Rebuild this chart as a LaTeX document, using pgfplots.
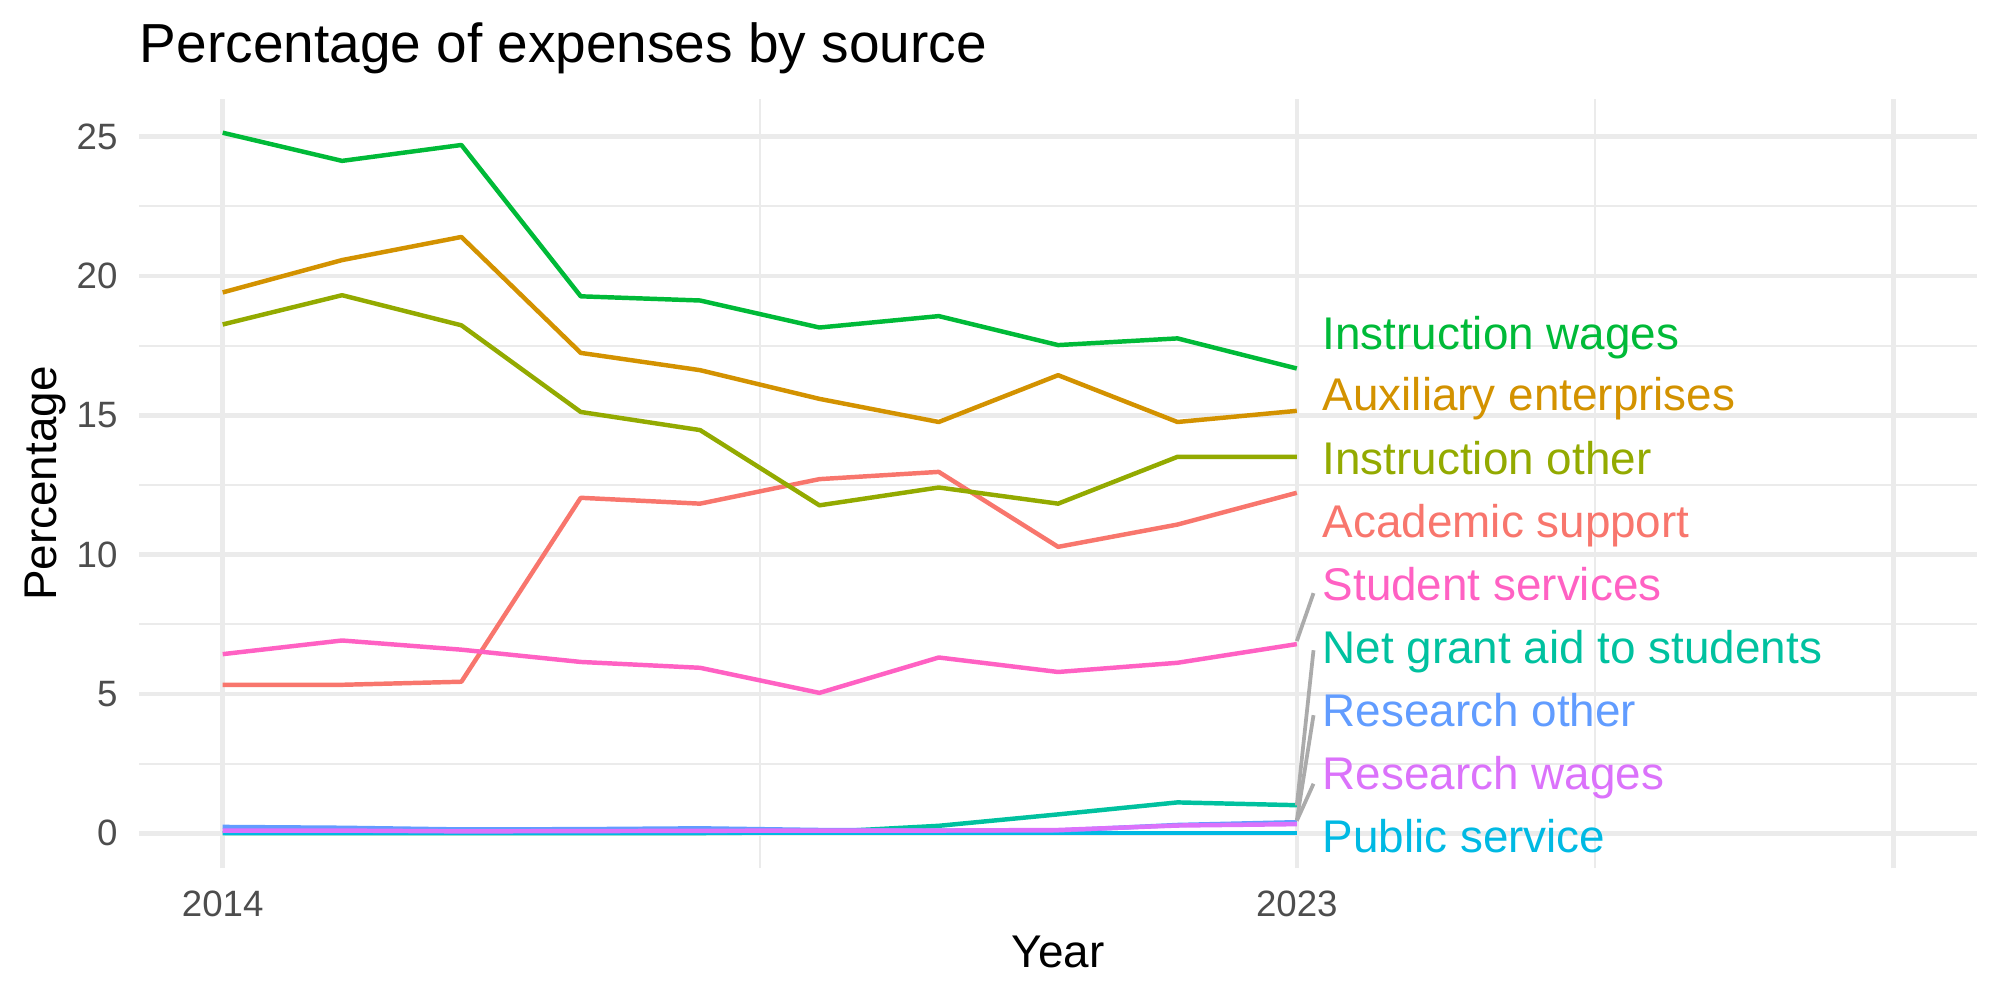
\documentclass[border=0pt]{standalone}
\usepackage{pgfplots}
\pgfplotsset{compat=1.18}
\usepackage{fontspec}
\setmainfont{Liberation Sans}
\definecolor{cAcad}{HTML}{F8766D}
\definecolor{cAux}{HTML}{D39200}
\definecolor{cInsO}{HTML}{93AA00}
\definecolor{cInsW}{HTML}{00BA38}
\definecolor{cNet}{HTML}{00C19F}
\definecolor{cPub}{HTML}{00B9E3}
\definecolor{cResO}{HTML}{619CFF}
\definecolor{cResW}{HTML}{DB72FB}
\definecolor{cStu}{HTML}{FF61C3}
\definecolor{grid92}{HTML}{EBEBEB}
\definecolor{gray30}{HTML}{4D4D4D}
\definecolor{segcol}{HTML}{ABABAB}
\begin{document}
\begin{tikzpicture}
\useasboundingbox (-33.4pt,-31.7pt) rectangle (446.6pt,208.4pt);
\begin{axis}[
  at={(0pt,0pt)}, anchor=south west,
  scale only axis, width=441.1pt, height=184.7pt,
  xmin=2013.3, xmax=2028.7, ymin=-1.255, ymax=26.36,
  axis line style={draw=none},
  major tick style={draw=none}, minor tick style={draw=none},
  xtick={2014,2023,2028}, xticklabels={2014,2023,{}},
  minor xtick={2018.5,2025.5},
  ytick={0,5,10,15,20,25},
  minor ytick={2.5,7.5,12.5,17.5,22.5},
  grid=both,
  major grid style={color=grid92, line width=1.07pt},
  minor grid style={color=grid92, line width=0.53pt},
  /pgf/number format/assume math mode=true,
  xticklabel style={font=\fontsize{8.8}{10}\selectfont, text=gray30, anchor=base, inner sep=0pt, yshift=-11.6pt},
  yticklabel style={font=\fontsize{8.8}{10}\selectfont, text=gray30, anchor=east, inner sep=0pt, xshift=-5pt},
  every axis plot/.append style={line width=1.07pt, line join=round, no markers},
  clip=false,
]
\addplot[color=cAcad] coordinates {(2014,5.33) (2015,5.33) (2016,5.44) (2017,12.04) (2018,11.83) (2019,12.71) (2020,12.97) (2021,10.28) (2022,11.08) (2023,12.22)};
\addplot[color=cAux] coordinates {(2014,19.41) (2015,20.57) (2016,21.40) (2017,17.24) (2018,16.62) (2019,15.59) (2020,14.76) (2021,16.44) (2022,14.76) (2023,15.16)};
\addplot[color=cInsO] coordinates {(2014,18.26) (2015,19.31) (2016,18.23) (2017,15.12) (2018,14.47) (2019,11.77) (2020,12.41) (2021,11.83) (2022,13.51) (2023,13.51)};
\addplot[color=cInsW] coordinates {(2014,25.14) (2015,24.13) (2016,24.70) (2017,19.27) (2018,19.12) (2019,18.15) (2020,18.56) (2021,17.52) (2022,17.76) (2023,16.68)};
\addplot[color=cNet] coordinates {(2014,0.01) (2015,0.01) (2016,0.01) (2017,0.01) (2018,0.01) (2019,0.04) (2020,0.27) (2021,0.68) (2022,1.11) (2023,1.01)};
\addplot[color=cPub] coordinates {(2014,0.01) (2015,0.01) (2016,0.01) (2017,0.01) (2018,0.01) (2019,0.01) (2020,0.01) (2021,0.01) (2022,0.01) (2023,0.01)};
\addplot[color=cResO] coordinates {(2014,0.23) (2015,0.20) (2016,0.14) (2017,0.15) (2018,0.18) (2019,0.12) (2020,0.10) (2021,0.10) (2022,0.30) (2023,0.40)};
\addplot[color=cResW] coordinates {(2014,0.10) (2015,0.10) (2016,0.07) (2017,0.08) (2018,0.09) (2019,0.10) (2020,0.10) (2021,0.12) (2022,0.28) (2023,0.33)};
\addplot[color=cStu] coordinates {(2014,6.43) (2015,6.92) (2016,6.59) (2017,6.15) (2018,5.94) (2019,5.04) (2020,6.31) (2021,5.79) (2022,6.12) (2023,6.79)};
% repel segments
\addplot[color=segcol, line width=0.9pt] coordinates {(2023.0,6.90) (2023.14,8.62)};
\addplot[color=segcol, line width=0.9pt] coordinates {(2023.0,1.00) (2023.14,6.57)};
\addplot[color=segcol, line width=0.9pt] coordinates {(2023.0,0.47) (2023.14,4.24)};
\addplot[color=segcol, line width=0.9pt] coordinates {(2023.0,0.45) (2023.14,1.78)};
% labels
\begin{scope}[every node/.style={anchor=base west, inner sep=0pt, font=\fontsize{11}{13}\selectfont}]
\node[text=cInsW] at (axis cs:2023.21,17.36) {Instruction wages};
\node[text=cAux]  at (axis cs:2023.21,15.16) {Auxiliary enterprises};
\node[text=cInsO] at (axis cs:2023.21,12.87) {Instruction other};
\node[text=cAcad] at (axis cs:2023.21,10.60) {Academic support};
\node[text=cStu]  at (axis cs:2023.21,8.36) {Student services};
\node[text=cNet]  at (axis cs:2023.21,6.10) {Net grant aid to students};
\node[text=cResO] at (axis cs:2023.21,3.85) {Research other};
\node[text=cResW] at (axis cs:2023.21,1.58) {Research wages};
\node[text=cPub]  at (axis cs:2023.21,-0.67) {Public service};
\end{scope}
\end{axis}
\node[anchor=base west, inner sep=0pt, font=\fontsize{13.2}{15}\selectfont] at (0pt,193.4pt) {Percentage of expenses by source};
\node[anchor=base, inner sep=0pt, font=\fontsize{11}{13}\selectfont] at (220.55pt,-23.8pt) {Year};
\node[anchor=base, rotate=90, inner sep=0pt, font=\fontsize{11}{13}\selectfont] at (-19.9pt,92.35pt) {Percentage};
\end{tikzpicture}
\end{document}
